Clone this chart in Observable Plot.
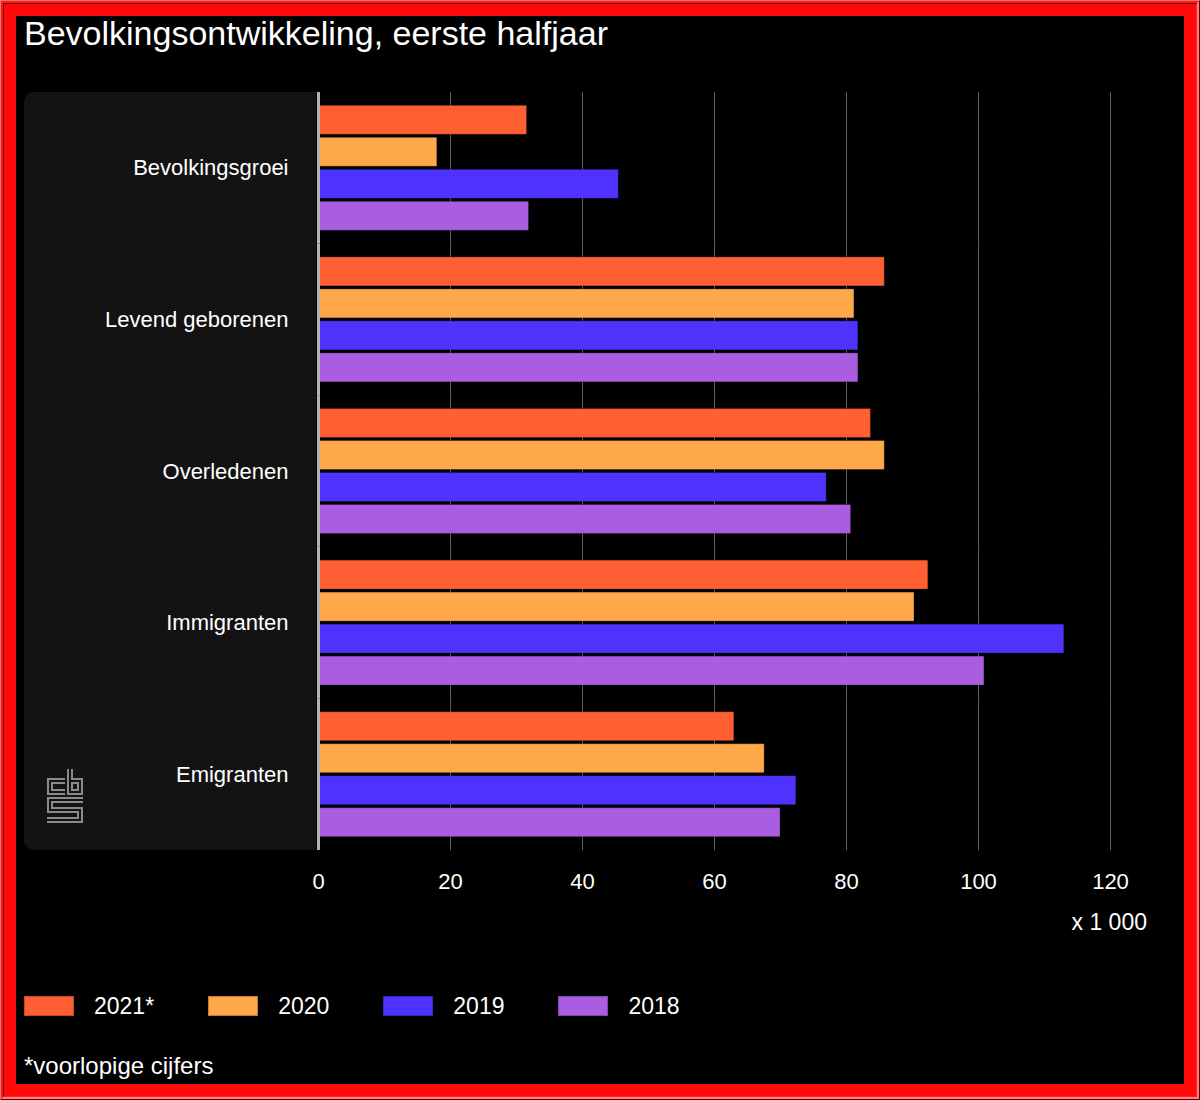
<!DOCTYPE html>
<html>
<head>
<meta charset="utf-8">
<script src="https://cdn.jsdelivr.net/npm/d3@7"></script>
<script src="https://cdn.jsdelivr.net/npm/@observablehq/plot@0.6"></script>
<style>
  html, body { margin: 0; padding: 0; background: #000; }
  body { font-family: "Liberation Sans", Arial, sans-serif; color: #fff; }
  #page { position: relative; width: 1200px; height: 1100px; background: #000; overflow: hidden; }
  #frame1 { position: absolute; left: 0; top: 0; width: 1200px; height: 1100px; box-sizing: border-box;
            border: 1px solid #ff7070; border-right-color: #5a0000; border-bottom-color: #5a0000; pointer-events: none; z-index: 10; }
  #frame2 { position: absolute; left: 1px; top: 1px; width: 1198px; height: 1098px; box-sizing: border-box;
            border: 2px solid #ff1a1a; border-right-color: #ff8080; border-bottom-color: #ff8080; pointer-events: none; z-index: 10; }
  #frame3 { position: absolute; left: 3px; top: 3px; width: 1194px; height: 1094px; box-sizing: border-box;
            border: 1px solid #6a0000; border-right-color: #ff2020; border-bottom-color: #ff2020; pointer-events: none; z-index: 10; }
  #frame4 { position: absolute; left: 4px; top: 4px; width: 1192px; height: 1092px; box-sizing: border-box;
            border: 12px solid #ff0a0a; pointer-events: none; z-index: 10; }
  #title { position: absolute; left: 24px; top: 13px; font-size: 34px; line-height: 40px; white-space: nowrap; }
  #panel { position: absolute; left: 24px; top: 92px; width: 292px; height: 758px; background: #131313;
           border-radius: 10px 0 0 10px; }
  #logo { position: absolute; left: 44px; top: 765px; }
  #chart { position: absolute; left: 0; top: 92px; }
  #unit { position: absolute; right: 53px; top: 908px; font-size: 23px; line-height: 28px; white-space: nowrap; }
  #legend { position: absolute; left: 24px; top: 996px; display: flex; align-items: center; }
  .item { display: flex; align-items: center; margin-right: 54px; }
  .sw { width: 50px; height: 20px; box-sizing: border-box; border: 1px solid rgba(0,0,0,0.25); margin-right: 20px; }
  .lab { font-size: 23px; line-height: 20px; }
  #note { position: absolute; left: 24px; top: 1051px; font-size: 24px; line-height: 30px; white-space: nowrap; }
</style>
</head>
<body>
<div id="page">
  <div id="title"></div>
  <div id="panel"></div>
  <svg id="logo" width="44" height="62" viewBox="0 0 44 62">
    <g fill="none" stroke-linejoin="miter">
      <g stroke="#8a8a8a" stroke-width="6">
        <path d="M21,16 H6 V27 H21"/>
        <path d="M26,4 V27 H36 V16 H26"/>
        <path d="M39,35 H6 V45 H36 V55 H3"/>
      </g>
      <g stroke="#131313" stroke-width="2">
        <path d="M21,16 H6 V27 H21"/>
        <path d="M26,4 V27 H36 V16 H26"/>
        <path d="M39,35 H6 V45 H36 V55 H3"/>
      </g>
    </g>
  </svg>
  <div id="chart"></div>
  <div id="unit"></div>
  <div id="legend"></div>
  <div id="note"></div>
  <div id="frame1"></div><div id="frame2"></div><div id="frame3"></div><div id="frame4"></div>
</div>
<script>
const titleText = "Bevolkingsontwikkeling, eerste halfjaar";
const unitText = "x 1 000";
const noteText = "*voorlopige cijfers";

const categories = ["Bevolkingsgroei", "Levend geborenen", "Overledenen", "Immigranten", "Emigranten"];
const years = ["2021*", "2020", "2019", "2018"];
const values2021 = [31.6, 85.8, 83.7, 92.4, 63.0];
const values2020 = [18.0, 81.2, 85.8, 90.3, 67.6];
const values2019 = [45.5, 81.8, 77.0, 113.0, 72.4];
const values2018 = [31.9, 81.8, 80.7, 100.9, 70.0];
const xTicks = [0, 20, 40, 60, 80, 100, 120];
const gridTicks = [20, 40, 60, 80, 100, 120];
const colors = ["#ff5f33", "#ffa84a", "#4e33ff", "#ab5de2"];

const series = [values2021, values2020, values2019, values2018];
const data = categories.flatMap((c, i) => years.map((y, j) => ({category: c, year: y, value: series[j][i]})));

document.getElementById("title").textContent = titleText;
document.getElementById("unit").textContent = unitText;
document.getElementById("note").textContent = noteText;

const legend = document.getElementById("legend");
years.forEach((y, i) => {
  const item = document.createElement("div");
  item.className = "item";
  const sw = document.createElement("div");
  sw.className = "sw";
  sw.style.background = colors[i];
  const lab = document.createElement("div");
  lab.className = "lab";
  lab.textContent = y;
  item.appendChild(sw);
  item.appendChild(lab);
  legend.appendChild(item);
});

const chart = Plot.plot({
  width: 1200,
  height: 808,
  marginLeft: 318,
  marginRight: 90,
  marginTop: 0,
  marginBottom: 50,
  style: {background: "transparent", color: "#fff", fontSize: "22px", fontFamily: "'Liberation Sans', Arial, sans-serif"},
  x: {domain: [0, 120], ticks: xTicks, tickSize: 0, tickPadding: 23, label: null, tickFormat: d => String(d)},
  fy: {domain: categories, padding: 0, round: false, tickSize: 0, tickPadding: 30, label: null, axis: "left"},
  y: {domain: years, paddingInner: 0.094, paddingOuter: 0.416, round: false, axis: null},
  color: {domain: years, range: colors},
  marks: [
    Plot.gridX(gridTicks, {stroke: "#5e5e5e", strokeOpacity: 1, strokeWidth: 1}),
    Plot.barX(data, {x: "value", y: "year", fy: "category", fill: "year", stroke: "#000", strokeOpacity: 0.3, strokeWidth: 1, inset: 0}),
    Plot.ruleX([0], {stroke: "#b4b4b4", strokeWidth: 3})
  ]
});
document.getElementById("chart").appendChild(chart);
</script>
</body>
</html>
